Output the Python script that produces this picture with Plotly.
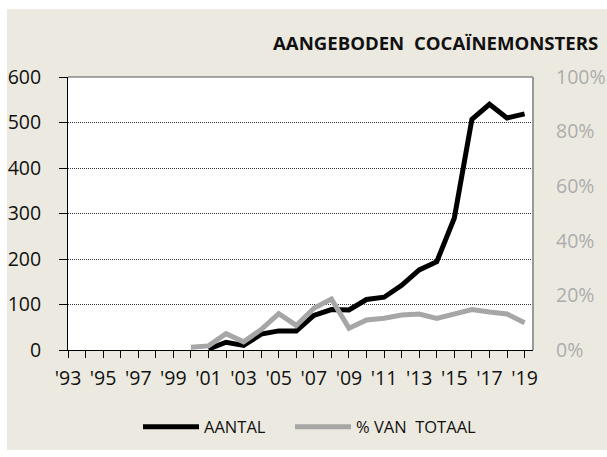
import plotly.graph_objects as go

# Yearly series, 1993-2019
years = list(range(1993, 2020))
aantal = [None, None, None, None, None, None, None, None,
          2, 17, 10, 35, 42, 42, 76, 89, 88, 111, 116, 142, 176, 194, 290, 507, 540, 510, 519]
pct_totaal = [None, None, None, None, None, None, None,
              1, 1.5, 6, 3, 7.5, 13.3, 9, 15.3, 18.7, 8, 11, 11.6, 12.8, 13.2, 11.6, 13.4, 14.8, 13.9, 13.2, 10]
tick_text = [("'" + str(y)[2:]) if y % 2 == 1 else "" for y in years]

title_text = "AANGEBODEN  COCAÏNEMONSTERS"
left_ticks = list(range(0, 601, 100))
right_ticks = list(range(0, 101, 20))
right_text = [f"{v}%" for v in right_ticks]

W, H = 607, 457
L, R, T, B = 68, 74, 77, 107
PW, PH = W - L - R, H - T - B


def px_x(p):
    return (p - L) / PW


def px_y(p):
    return (H - B - p) / PH


FONT = "Open Sans"

fig = go.Figure()
fig.add_trace(go.Scatter(x=years, y=aantal, name="AANTAL", mode="lines",
                         line=dict(color="#000000", width=5), yaxis="y",
                         legend="legend"))
fig.add_trace(go.Scatter(x=years, y=pct_totaal, name="% VAN  TOTAAL", mode="lines",
                         line=dict(color="#A6A6A6", width=5), yaxis="y2",
                         legend="legend2"))

legend_style = dict(orientation="h", xanchor="left", yanchor="middle",
                    y=px_y(427), bgcolor="rgba(0,0,0,0)",
                    font=dict(size=16.5, color="#111111", family=FONT),
                    itemwidth=56, tracegroupgap=0)

fig.update_layout(
    width=W, height=H,
    margin=dict(l=L, r=R, t=T, b=B, autoexpand=False),
    paper_bgcolor="white",
    plot_bgcolor="white",
    font=dict(family=FONT, color="#111111"),
    showlegend=True,
    legend=dict(x=px_x(138), **legend_style),
    legend2=dict(x=px_x(290), **legend_style),
    xaxis=dict(range=[1993, 2019.48], tickmode="array", tickvals=years,
               ticktext=tick_text, ticks="outside", ticklen=7, tickcolor="#000",
               showline=True, linecolor="#000", linewidth=1, showgrid=False,
               zeroline=False, tickfont=dict(size=19.5, color="#111111"),
               ticklabelstandoff=4, automargin=False),
    yaxis=dict(range=[0, 600], tickvals=left_ticks, ticks="outside", ticklen=8,
               tickcolor="#000", showline=True, linecolor="#000", linewidth=1,
               showgrid=True, gridcolor="#333333", gridwidth=1, griddash="1px,1px",
               zeroline=False, tickfont=dict(size=19.5, color="#111111"),
               ticklabelstandoff=14, automargin=False),
    yaxis2=dict(range=[0, 100], tickmode="array", tickvals=right_ticks,
                ticktext=right_text,
                overlaying="y", side="right", showgrid=False, showline=False,
                zeroline=False, ticks="", tickfont=dict(size=19.5, color="#ADADAD"),
                ticklabelstandoff=22, automargin=False),
    shapes=[
        # beige panel behind everything
        dict(type="rect", xref="paper", yref="paper", layer="below",
             x0=px_x(7), x1=px_x(W), y0=px_y(450), y1=px_y(9),
             fillcolor="#ECEAE0", line=dict(width=0)),
        # white plotting area
        dict(type="rect", xref="paper", yref="paper", layer="below",
             x0=0, x1=1, y0=0, y1=1, fillcolor="white", line=dict(width=0)),
        # top and right frame
        dict(type="line", xref="paper", yref="paper", x0=0, x1=1, y0=1, y1=1,
             line=dict(color="#555555", width=1)),
        dict(type="line", xref="paper", yref="paper", x0=1, x1=1, y0=0, y1=1,
             line=dict(color="#999999", width=2)),
    ],
    annotations=[
        dict(text="<b>" + title_text + "</b>", xref="paper", yref="paper",
             x=px_x(600), y=px_y(42), xanchor="right", yanchor="middle",
             showarrow=False, font=dict(size=18.6, color="#111111", family=FONT)),
    ],
)

fig.write_html("out.html")
